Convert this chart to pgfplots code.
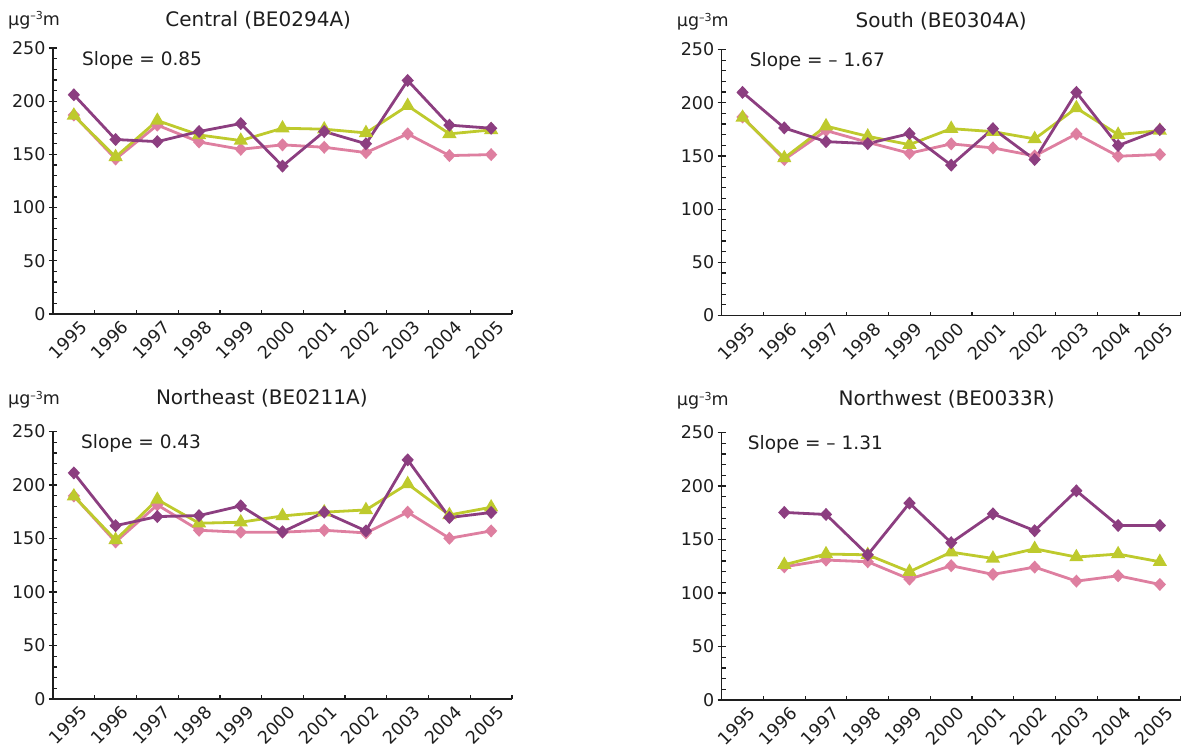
\documentclass[border=0pt]{standalone}
\usepackage{fontspec}
\setmainfont{DejaVu Sans}
\usepackage{pgfplots}
\usepackage{pgfplotstable}
\pgfplotsset{compat=1.18}
\definecolor{cpurple}{RGB}{140,62,128}
\definecolor{cpink}{RGB}{222,127,160}
\definecolor{cgreen}{RGB}{190,202,45}
\definecolor{ctext}{RGB}{30,30,30}

\pgfplotstableread{
x purple green pink
0 206   186.6 187
1 164   147.6 145.7
2 162   181.8 177.5
3 171.5 168.3 161.7
4 179   163   154.8
5 139   174.6 159
6 171.5 173.7 156.7
7 160   170.2 151.7
8 219.5 195.7 169.3
9 177.5 169.3 148.9
10 174.6 173  149.8
}\central
\pgfplotstableread{
x purple green pink
0 209.7 186   186.6
1 176.3 148   146.6
2 163.4 178   173.8
3 161.6 168.4 162.8
4 170.9 160.6 152.5
5 141.3 175.6 161.3
6 175.6 172.8 157.5
7 146.6 166   150
8 209.7 195   170.6
9 159.7 170   149.7
10 174.7 173.8 151.3
}\south
\pgfplotstableread{
x purple green pink
0 211.3 189.5 189.8
1 162   148.7 146.8
2 170.5 186.4 181.4
3 171.4 164.3 157.7
4 180.5 165.2 155.9
5 156.2 171.1 155.9
6 174.6 174.6 157.7
7 157.1 176.7 155.2
8 223.5 201   174.6
9 169.6 172   150.2
10 174.3 179.2 157.1
}\northeast
\pgfplotstableread{
x purple green pink
1 175.3 126.4 124.5
2 173.4 136.4 130.8
3 135.7 135.7 129.2
4 184   119.9 113
5 147   138.2 125.5
6 174   132.3 117.4
7 158.2 141.3 124.2
8 195.5 133.6 111.1
9 163.1 136.4 116.1
10 163.1 129.2 108
}\northwest

\pgfplotsset{
  panel/.style={
    scale only axis, width=459pt, height=266pt,
    anchor=south west, clip=false,
    xmin=-0.5, xmax=10.5, ymin=0, ymax=250,
    axis x line=bottom, axis y line=left,
    axis line style={-, line width=1.3pt, color=ctext},
    tick align=inside,
    xtick={0,...,10},
    xticklabels={1995,1996,1997,1998,1999,2000,2001,2002,2003,2004,2005},
    major x tick style={draw=none},
    minor xtick={-0.5,0.5,...,10.5},
    ytick={0,50,...,250},
    minor ytick={10,20,...,240},
    extra y ticks={0,50,...,250},
    extra y tick labels={},
    extra y tick style={tick align=outside},
    major tick length=4pt, minor tick length=4pt,
    every tick/.style={line width=1.2pt, color=ctext},
    tick label style={font=\fontsize{17.5}{20}\selectfont, text=ctext},
    /pgf/number format/assume math mode=true,
    yticklabel style={xshift=-4pt},
    xticklabel style={xshift=5pt, yshift=-4pt, rotate=45, anchor=north east, inner sep=1pt},
    every axis plot/.append style={line width=2.8pt},
  },
  spurple/.style={color=cpurple, mark=diamond*, mark size=4.5pt, mark options={xscale=1.25}},
  spink/.style={color=cpink, mark=diamond*, mark size=4.5pt, mark options={xscale=1.25}},
  sgreen/.style={color=cgreen, mark=triangle*, mark size=5.5pt},
}
\newcommand{\unitlbl}{µg\raisebox{0.55ex}{\fontsize{11}{11}\selectfont –3}m}

\begin{document}
\begin{tikzpicture}
\useasboundingbox (0,0) rectangle (1181pt,-749pt);

% Central
\begin{axis}[panel, at={(53pt,-314pt)}]
\addplot[spink] table[x=x,y=pink]{\central};
\addplot[sgreen] table[x=x,y=green]{\central};
\addplot[spurple] table[x=x,y=purple]{\central};
\node[anchor=base west, inner sep=0, xshift=-45pt, yshift=23pt, font=\fontsize{17.5}{20}\selectfont, text=ctext] at (rel axis cs:0,1) {\unitlbl};
\node[anchor=base, inner sep=0, yshift=22pt, font=\fontsize{20}{22}\selectfont, text=ctext] at (rel axis cs:0.447,1) {Central (BE0294A)};
\node[anchor=base west, inner sep=0, xshift=29pt, yshift=-17pt, font=\fontsize{18.5}{22}\selectfont, text=ctext] at (rel axis cs:0,1) {Slope = 0.85};
\end{axis}

% South
\begin{axis}[panel, at={(721.7pt,-315.5pt)}]
\addplot[spink] table[x=x,y=pink]{\south};
\addplot[sgreen] table[x=x,y=green]{\south};
\addplot[spurple] table[x=x,y=purple]{\south};
\node[anchor=base west, inner sep=0, xshift=-45pt, yshift=23pt, font=\fontsize{17.5}{20}\selectfont, text=ctext] at (rel axis cs:0,1) {\unitlbl};
\node[anchor=base, inner sep=0, yshift=22pt, font=\fontsize{20}{22}\selectfont, text=ctext] at (rel axis cs:0.478,1) {South (BE0304A)};
\node[anchor=base west, inner sep=0, xshift=28pt, yshift=-17pt, font=\fontsize{18.5}{22}\selectfont, text=ctext] at (rel axis cs:0,1) {Slope = – 1.67};
\end{axis}

% Northeast
\begin{axis}[panel, at={(53pt,-699pt)}, height=267.5pt]
\addplot[spink] table[x=x,y=pink]{\northeast};
\addplot[sgreen] table[x=x,y=green]{\northeast};
\addplot[spurple] table[x=x,y=purple]{\northeast};
\node[anchor=base west, inner sep=0, xshift=-45pt, yshift=27pt, font=\fontsize{17.5}{20}\selectfont, text=ctext] at (rel axis cs:0,1) {\unitlbl};
\node[anchor=base, inner sep=0, yshift=27pt, font=\fontsize{20}{22}\selectfont, text=ctext] at (rel axis cs:0.455,1) {Northeast (BE0211A)};
\node[anchor=base west, inner sep=0, xshift=28pt, yshift=-17pt, font=\fontsize{18.5}{22}\selectfont, text=ctext] at (rel axis cs:0,1) {Slope = 0.43};
\end{axis}

% Northwest
\begin{axis}[panel, at={(721.7pt,-700pt)}, height=267.5pt]
\addplot[spink] table[x=x,y=pink]{\northwest};
\addplot[sgreen] table[x=x,y=green]{\northwest};
\addplot[spurple] table[x=x,y=purple]{\northwest};
\node[anchor=base west, inner sep=0, xshift=-45pt, yshift=27pt, font=\fontsize{17.5}{20}\selectfont, text=ctext] at (rel axis cs:0,1) {\unitlbl};
\node[anchor=base, inner sep=0, yshift=27pt, font=\fontsize{20}{22}\selectfont, text=ctext] at (rel axis cs:0.49,1) {Northwest (BE0033R)};
\node[anchor=base west, inner sep=0, xshift=26pt, yshift=-17pt, font=\fontsize{18.5}{22}\selectfont, text=ctext] at (rel axis cs:0,1) {Slope = – 1.31};
\end{axis}
\end{tikzpicture}
\end{document}
